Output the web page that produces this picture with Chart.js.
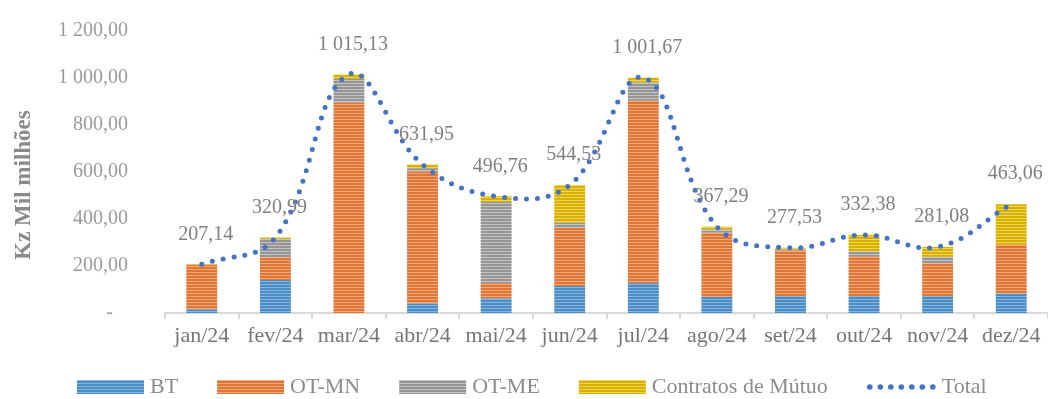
<!DOCTYPE html>
<html lang="pt">
<head>
<meta charset="UTF-8">
<title>Kz Mil milhões</title>
<style>
  body { margin: 0; background: #fff; }
  #wrap { width: 1048px; height: 399px; }
</style>
</head>
<body>
<div id="wrap"><canvas id="grafico" width="1048" height="399"></canvas></div>

<script src="https://cdn.jsdelivr.net/npm/chart.js@4.4.1/dist/chart.umd.min.js"></script>
<script>
var meses = ['jan/24', 'fev/24', 'mar/24', 'abr/24', 'mai/24', 'jun/24', 'jul/24', 'ago/24', 'set/24', 'out/24', 'nov/24', 'dez/24'];
var bt = [15, 140, 0, 40, 62, 115, 127, 68, 72, 72, 72, 82];
var otMN = [189, 97, 895, 562, 65, 247, 776, 274, 193, 168, 140, 208];
var otME = [0, 78, 101, 14, 345, 22, 77, 13, 4, 21, 27, 0];
var contratos = [3.14, 5.99, 19.13, 15.95, 24.76, 160.53, 21.67, 12.29, 8.53, 71.38, 42.08, 173.06];
var total = [207.14, 320.99, 1015.13, 631.95, 496.76, 544.53, 1001.67, 367.29, 277.53, 332.38, 281.08, 463.06];
var yTicks = [0, 200, 400, 600, 800, 1000, 1200];
var tituloY = 'Kz Mil milhões';

var fonte = '"Liberation Serif", "DejaVu Serif", serif';
var cinza = '#808080';

// numero no formato 1 015,13
function formata(v) {
    var p = v.toFixed(2).split('.');
    p[0] = p[0].replace(/\B(?=(\d{3})+(?!\d))/g, ' ');
    return p[0] + ',' + p[1];
}

var ctx = document.getElementById('grafico').getContext('2d');

// textura riscada das barras
function riscas(base, claro) {
    var t = document.createElement('canvas');
    t.width = 4; t.height = 3;
    var g = t.getContext('2d');
    g.fillStyle = base; g.fillRect(0, 0, 4, 3);
    g.fillStyle = claro; g.fillRect(0, 2, 4, 1);
    return ctx.createPattern(t, 'repeat');
}

// rotulos dos totais por cima dos pontos
var rotulos = {
    id: 'rotulos',
    afterDatasetsDraw: function(chart) {
        var meta = chart.getDatasetMeta(4);
        var c = chart.ctx;
        c.save();
        c.font = '20px ' + fonte;
        c.fillStyle = cinza;
        c.textAlign = 'center';
        c.textBaseline = 'middle';
        meta.data.forEach(function(pt, i) {
            c.fillText(formata(total[i]), pt.x + 4, pt.y - 30);
        });
        c.restore();
    }
};

// titulo do eixo y, um pouco abaixo do centro como no original
var tituloEixo = {
    id: 'tituloEixo',
    afterDraw: function(chart) {
        var c = chart.ctx;
        c.save();
        c.translate(24, 185);
        c.rotate(-Math.PI / 2);
        c.font = 'bold 23px ' + fonte;
        c.fillStyle = '#8a8a8a';
        c.textAlign = 'center';
        c.textBaseline = 'middle';
        c.fillText(tituloY, 0, 0);
        c.restore();
    }
};

// legenda desenhada a mao
var legenda = {
    id: 'legenda',
    afterDraw: function(chart) {
        var c = chart.ctx;
        var y = 387;
        var x = 77;
        c.save();
        c.font = '22px ' + fonte;
        c.textBaseline = 'middle';
        chart.data.datasets.forEach(function(ds) {
            if (ds.type === 'line') {
                c.fillStyle = ds.borderColor;
                for (var k = 0; k < 7; k++) {
                    c.beginPath();
                    c.arc(x + 3 + k * 10.5, y, 2.8, 0, Math.PI * 2);
                    c.fill();
                }
                x += 75;
            } else {
                c.fillStyle = ds.backgroundColor;
                c.fillRect(x, y - 7, 67, 14);
                x += 73;
            }
            c.fillStyle = '#8c8c8c';
            c.fillText(ds.label, x, y);
            x += c.measureText(ds.label).width + 39;
        });
        c.restore();
    }
};

new Chart(ctx, {
    type: 'bar',
    data: {
        labels: meses,
        datasets: [
            { label: 'BT', data: bt, backgroundColor: riscas('#4a8cc4', '#86b6de'), order: 1 },
            { label: 'OT-MN', data: otMN, backgroundColor: riscas('#e07636', '#f0a878'), order: 1 },
            { label: 'OT-ME', data: otME, backgroundColor: riscas('#959595', '#c4c4c4'), order: 1 },
            { label: 'Contratos de Mútuo', data: contratos, backgroundColor: riscas('#d8b000', '#f0d650'), order: 1 },
            {
                type: 'line', label: 'Total', data: total, stack: 'total', order: 0,
                borderColor: '#4472c4', borderWidth: 5, borderDash: [0, 11], borderCapStyle: 'round',
                pointRadius: 0, tension: 0.4, fill: false
            }
        ]
    },
    options: {
        responsive: false,
        animation: false,
        layout: { padding: { top: 31, right: 0, bottom: 26, left: 0 } },
        datasets: { bar: { categoryPercentage: 0.42, barPercentage: 1 } },
        plugins: { legend: { display: false }, tooltip: { enabled: false } },
        scales: {
            x: {
                stacked: true,
                grid: { display: true, drawOnChartArea: false, drawTicks: true, tickLength: 6, color: '#d9d9d9', lineWidth: 2, offset: true },
                border: { display: true, color: '#d9d9d9', width: 2 },
                ticks: { color: '#767676', font: { family: fonte, size: 22 }, padding: 4, maxRotation: 0, autoSkip: false },
                afterFit: function(s) { s.height = 60; }
            },
            y: {
                stacked: true,
                min: 0, max: 1200,
                afterBuildTicks: function(s) { s.ticks = yTicks.map(function(v) { return { value: v }; }); },
                grid: { display: false, drawTicks: false },
                border: { display: false },
                ticks: {
                    color: '#9a9a9a', font: { family: fonte, size: 20 }, padding: 37,
                    callback: function(v) { return v === 0 ? '-   ' : formata(v); }
                },
                afterFit: function(s) {
                    s.width = 165;
                    s.paddingTop = 10;
                    s.paddingBottom = 10;
                }
            }
        }
    },
    plugins: [rotulos, tituloEixo, legenda]
});
</script>
</body>
</html>
